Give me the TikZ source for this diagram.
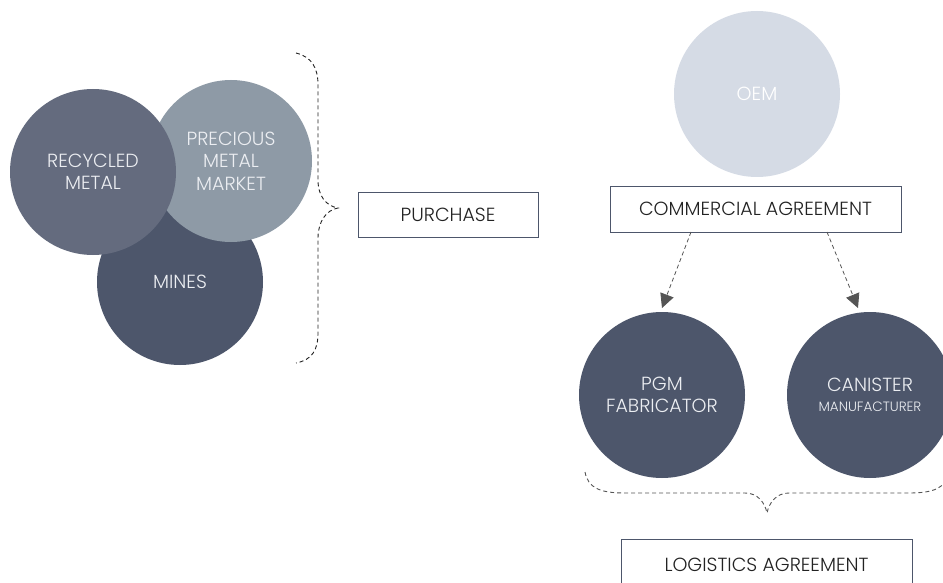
\documentclass[tikz,border=0pt]{standalone}
\usepackage{fontspec}
\setmainfont{Poppins}[UprightFont={* Light}]
\usetikzlibrary{arrows.meta}
\definecolor{recc}{HTML}{646B7E}
\definecolor{prec}{HTML}{8E9AA6}
\definecolor{minc}{HTML}{4D566B}
\definecolor{oemc}{HTML}{D5DBE5}
\definecolor{boxc}{HTML}{4D566B}
\definecolor{txtc}{HTML}{222222}
\definecolor{arrc}{HTML}{555555}
\definecolor{ctxt}{HTML}{ECEEF2}
\tikzset{
  blob/.style={circle, inner sep=0pt, minimum size=166pt, text=ctxt, align=center, font=\fontsize{19}{22.5}\selectfont},
  tbox/.style={draw=boxc, line width=0.9pt, fill=white, text=txtc, inner sep=0pt, font=\fontsize{19}{22}\selectfont},
  brc/.style={dashed, dash pattern=on 4pt off 3pt, line width=0.9pt},
  arr/.style={arrc, dashed, dash pattern=on 4pt off 3pt, line width=0.8pt, -{Triangle[length=14pt,width=14pt]}}
}
\begin{document}
\begin{tikzpicture}[x=1pt,y=-1pt]
\useasboundingbox (0,0) rectangle (943,583);
\clip (0,0) rectangle (943,583);
% left cluster
\node[blob, fill=minc] (mines) at (180,282) {MINES};
\node[blob, fill=prec, minimum size=162pt] (prec) at (231,161) {PRECIOUS\\METAL\\MARKET};
\node[blob, fill=recc] (rec) at (93,172) {RECYCLED\\METAL};
% brace
\draw[brc, txtc] (296,53) .. controls (312,57) and (318,68) .. (318,85) -- (318,180)
  .. controls (318,196) and (326,206) .. (338,208)
  .. controls (326,210) and (318,222) .. (318,238) -- (318,333)
  .. controls (318,350) and (312,360) .. (296,363);
\node[tbox, minimum width=180pt, minimum height=45pt] (purch) at (448,214.5) {PURCHASE};
% right side
\node[blob, fill=oemc, text=white] (oem) at (757,94) {OEM};
\node[tbox, minimum width=291pt, minimum height=46pt] (comm) at (755.5,209) {COMMERCIAL AGREEMENT};
\node[blob, fill=minc] (pgm) at (662,395) {PGM\\FABRICATOR};
\node[blob, fill=minc] (can) at (870,395) {CANISTER\\[-3pt]{\fontsize{13.5}{15}\selectfont MANUFACTURER}};
\coordinate (a1) at (691,232);
\coordinate (a1e) at (662,308);
\coordinate (a2) at (827,232);
\coordinate (a2e) at (858,308);
\draw[arr] (a1) -- (a1e);
\draw[arr] (a2) -- (a2e);
% bottom brace
\draw[brc, arrc] (585,472) .. controls (588,488) and (600,493) .. (625,493) -- (745,493)
  .. controls (758,493) and (765,503) .. (767,513)
  .. controls (769,503) and (776,493) .. (789,493) -- (909,493)
  .. controls (934,493) and (946,488) .. (949,472);
\node[tbox, minimum width=291pt, minimum height=52pt] (log) at (766.5,565) {LOGISTICS AGREEMENT};
\end{tikzpicture}
\end{document}
